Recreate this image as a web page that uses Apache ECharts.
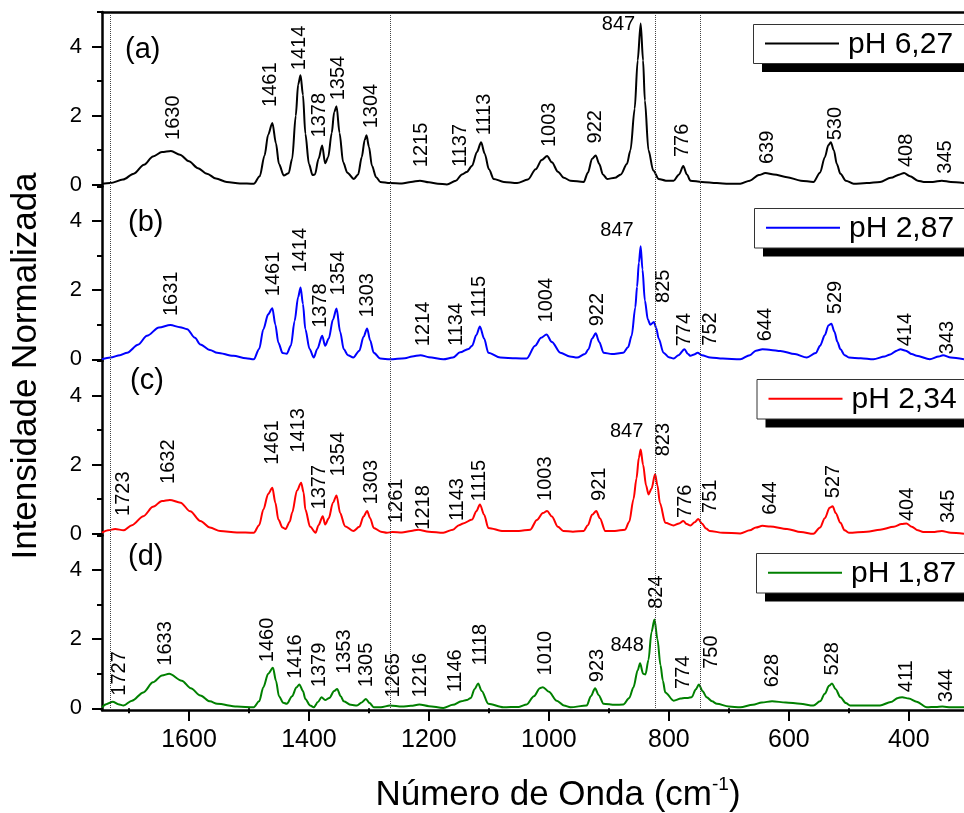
<!DOCTYPE html>
<html>
<head>
<meta charset="utf-8">
<script src="https://cdn.jsdelivr.net/npm/echarts@6/dist/echarts.min.js"></script>
<style>
  html, body { margin: 0; padding: 0; background: #fff; }
  #chart { width: 964px; height: 813px; }
</style>
</head>
<body>
<div id="chart"></div>
<script>
// ---------- data ----------
const wavenumberMin = 308;
const wavenumberMax = 1745;
const xTickMajor = [400, 600, 800, 1000, 1200, 1400, 1600];
const xTickMinor = [500, 700, 900, 1100, 1300, 1500, 1700];
const yTickMajor = [0, 2, 4];
const yTickMinor = [1, 3, 5];
const guideLines = [1731, 1265, 823, 747];
const sampleNames = ['pH 6,27', 'pH 2,87', 'pH 2,34', 'pH 1,87'];
const panelTags = ['(a)', '(b)', '(c)', '(d)'];

// Raman spectra, [wavenumber (cm-1), normalized intensity]
const spectrumA = [
  [1745, 0.03], [1731, 0.05], [1710, 0.15], [1692, 0.32], [1675, 0.58], [1660, 0.82], [1645, 0.95], [1630, 0.98],
  [1615, 0.87], [1600, 0.68], [1585, 0.48], [1570, 0.32], [1555, 0.18], [1537, 0.08], [1515, 0.04], [1492, 0.03],
  [1482, 0.25], [1474, 0.85], [1468, 1.45], [1461, 1.79], [1455, 1.2], [1450, 0.6], [1442, 0.27], [1434, 0.33],
  [1428, 0.75], [1422, 2.0], [1418, 2.9], [1414, 3.17], [1410, 2.6], [1406, 1.48], [1400, 0.6], [1394, 0.28],
  [1390, 0.3], [1384, 0.75], [1378, 1.14], [1373, 0.62], [1368, 0.8], [1362, 1.5], [1358, 2.1], [1354, 2.27],
  [1349, 1.5], [1343, 0.65], [1336, 0.35], [1325, 0.17], [1318, 0.3], [1312, 0.8], [1307, 1.3], [1304, 1.43],
  [1300, 1.1], [1295, 0.55], [1288, 0.22], [1281, 0.08], [1265, 0.05], [1245, 0.04], [1230, 0.08], [1215, 0.12],
  [1200, 0.07], [1185, 0.03], [1170, 0.01], [1155, 0.12], [1145, 0.3], [1137, 0.37], [1128, 0.55], [1120, 0.95],
  [1113, 1.23], [1107, 0.9], [1100, 0.45], [1092, 0.17], [1075, 0.08], [1053, 0.05], [1035, 0.15], [1022, 0.45],
  [1012, 0.72], [1003, 0.83], [995, 0.65], [985, 0.38], [975, 0.2], [964, 0.12], [942, 0.08], [935, 0.35],
  [928, 0.75], [922, 0.85], [916, 0.6], [910, 0.3], [903, 0.17], [890, 0.2], [880, 0.3], [870, 0.6],
  [864, 1.0], [857, 2.2], [852, 3.6], [847, 4.67], [843, 3.6], [840, 2.44], [834, 1.0], [826, 0.41],
  [817, 0.17], [805, 0.12], [792, 0.12], [783, 0.3], [776, 0.54], [770, 0.3], [764, 0.12], [745, 0.08],
  [720, 0.05], [700, 0.03], [681, 0.03], [665, 0.12], [650, 0.28], [639, 0.34], [625, 0.3], [603, 0.22],
  [580, 0.12], [559, 0.08], [548, 0.35], [540, 0.8], [534, 1.15], [530, 1.23], [525, 1.0], [520, 0.6],
  [514, 0.32], [505, 0.12], [492, 0.03], [470, 0.05], [448, 0.08], [430, 0.2], [415, 0.3], [408, 0.34],
  [398, 0.25], [385, 0.12], [375, 0.08], [360, 0.08], [345, 0.12], [330, 0.08], [308, 0.05]
];
const spectrumB = [
  [1745, 0.0], [1731, 0.05], [1715, 0.12], [1703, 0.19], [1685, 0.42], [1670, 0.68], [1650, 0.92], [1631, 0.99],
  [1615, 0.93], [1603, 0.87], [1590, 0.62], [1581, 0.43], [1565, 0.27], [1553, 0.19], [1526, 0.1], [1505, 0.03],
  [1492, 0.0], [1483, 0.3], [1476, 0.87], [1468, 1.3], [1461, 1.48], [1456, 1.0], [1451, 0.48], [1444, 0.18],
  [1437, 0.16], [1430, 0.4], [1424, 1.1], [1418, 1.8], [1414, 2.08], [1410, 1.6], [1406, 0.87], [1399, 0.3],
  [1392, 0.05], [1386, 0.3], [1378, 0.68], [1373, 0.39], [1367, 0.6], [1360, 1.15], [1354, 1.47], [1348, 0.8],
  [1342, 0.29], [1335, 0.12], [1326, 0.05], [1316, 0.25], [1309, 0.65], [1303, 0.89], [1298, 0.55], [1292, 0.19],
  [1281, 0.02], [1265, 0.0], [1240, 0.03], [1228, 0.08], [1214, 0.12], [1200, 0.06], [1176, 0.0], [1160, 0.05],
  [1148, 0.2], [1134, 0.3], [1128, 0.39], [1121, 0.7], [1115, 0.95], [1108, 0.6], [1101, 0.19], [1081, 0.05],
  [1055, 0.03], [1037, 0.02], [1023, 0.39], [1013, 0.62], [1004, 0.72], [995, 0.5], [981, 0.19], [965, 0.08],
  [953, 0.05], [940, 0.15], [934, 0.29], [928, 0.6], [922, 0.75], [916, 0.5], [909, 0.19], [895, 0.15],
  [876, 0.19], [868, 0.35], [862, 0.68], [856, 1.5], [853, 2.1], [850, 2.8], [847, 3.27], [844, 2.6],
  [840, 1.7], [835, 1.15], [831, 1.0], [825, 1.08], [821, 0.9], [817, 0.6], [809, 0.19], [800, 0.06],
  [792, 0.02], [784, 0.12], [774, 0.29], [768, 0.15], [764, 0.1], [758, 0.14], [752, 0.19], [745, 0.12],
  [731, 0.05], [710, 0.02], [681, 0.0], [665, 0.12], [655, 0.25], [644, 0.29], [630, 0.27], [614, 0.24],
  [590, 0.15], [570, 0.05], [555, 0.18], [548, 0.39], [540, 0.7], [534, 0.98], [529, 1.03], [524, 0.8],
  [519, 0.5], [514, 0.29], [507, 0.12], [500, 0.05], [480, 0.03], [459, 0.0], [440, 0.08], [431, 0.14],
  [420, 0.25], [414, 0.29], [405, 0.25], [395, 0.15], [387, 0.1], [365, 0.0], [350, 0.08], [343, 0.12],
  [330, 0.05], [308, 0.0]
];
const spectrumC = [
  [1745, 0.03], [1735, 0.1], [1723, 0.14], [1709, 0.1], [1695, 0.25], [1676, 0.51], [1660, 0.78], [1645, 0.95],
  [1632, 0.98], [1614, 0.9], [1598, 0.65], [1581, 0.37], [1565, 0.18], [1548, 0.08], [1520, 0.04], [1492, 0.03],
  [1483, 0.25], [1476, 0.7], [1468, 1.15], [1461, 1.33], [1456, 0.9], [1451, 0.41], [1444, 0.18], [1439, 0.14],
  [1432, 0.35], [1428, 0.61], [1420, 1.25], [1413, 1.48], [1409, 1.2], [1406, 0.7], [1398, 0.2], [1389, 0.03],
  [1384, 0.25], [1377, 0.51], [1373, 0.27], [1367, 0.45], [1360, 0.9], [1354, 1.11], [1348, 0.6], [1340, 0.22],
  [1326, 0.08], [1316, 0.2], [1309, 0.5], [1303, 0.66], [1298, 0.45], [1292, 0.17], [1280, 0.06], [1270, 0.03],
  [1261, 0.05], [1245, 0.04], [1230, 0.08], [1218, 0.12], [1200, 0.06], [1176, 0.03], [1160, 0.12], [1150, 0.25],
  [1143, 0.3], [1128, 0.41], [1121, 0.65], [1115, 0.85], [1108, 0.55], [1101, 0.17], [1076, 0.08], [1050, 0.08],
  [1031, 0.12], [1020, 0.4], [1010, 0.6], [1003, 0.66], [995, 0.5], [985, 0.2], [976, 0.08], [960, 0.06],
  [942, 0.08], [935, 0.25], [928, 0.55], [921, 0.66], [915, 0.45], [906, 0.08], [890, 0.08], [873, 0.12],
  [866, 0.35], [859, 1.0], [854, 1.6], [850, 2.2], [847, 2.44], [843, 2.0], [838, 1.4], [834, 1.14],
  [829, 1.3], [823, 1.72], [819, 1.4], [815, 0.9], [806, 0.32], [792, 0.24], [783, 0.3], [776, 0.37],
  [770, 0.28], [764, 0.24], [757, 0.33], [751, 0.43], [745, 0.3], [738, 0.15], [732, 0.08], [710, 0.03],
  [681, 0.01], [665, 0.1], [655, 0.18], [644, 0.23], [631, 0.21], [603, 0.14], [580, 0.05], [559, 0.0],
  [548, 0.18], [540, 0.45], [532, 0.75], [527, 0.8], [522, 0.6], [514, 0.32], [507, 0.1], [500, 0.03],
  [470, 0.06], [448, 0.12], [425, 0.2], [412, 0.28], [404, 0.3], [395, 0.2], [385, 0.1], [376, 0.05],
  [360, 0.05], [345, 0.08], [330, 0.03], [308, 0.0]
];
const spectrumD = [
  [1745, 0.03], [1738, 0.12], [1727, 0.19], [1718, 0.12], [1709, 0.08], [1695, 0.22], [1676, 0.46], [1660, 0.75],
  [1645, 0.95], [1633, 1.0], [1612, 0.8], [1597, 0.58], [1581, 0.37], [1565, 0.2], [1553, 0.13], [1520, 0.05],
  [1492, 0.03], [1483, 0.2], [1476, 0.61], [1468, 1.0], [1460, 1.17], [1455, 0.8], [1450, 0.35], [1443, 0.16],
  [1437, 0.13], [1428, 0.35], [1421, 0.6], [1416, 0.69], [1410, 0.5], [1406, 0.27], [1398, 0.08], [1392, 0.03],
  [1385, 0.18], [1379, 0.32], [1373, 0.24], [1366, 0.3], [1358, 0.5], [1353, 0.56], [1347, 0.35], [1342, 0.2],
  [1330, 0.1], [1320, 0.08], [1312, 0.17], [1305, 0.27], [1299, 0.15], [1292, 0.03], [1280, 0.03], [1265, 0.08],
  [1245, 0.05], [1230, 0.07], [1216, 0.11], [1200, 0.06], [1176, 0.01], [1160, 0.1], [1146, 0.2], [1137, 0.24],
  [1130, 0.3], [1124, 0.55], [1118, 0.72], [1112, 0.5], [1101, 0.13], [1076, 0.03], [1050, 0.04], [1037, 0.11],
  [1025, 0.35], [1015, 0.58], [1010, 0.61], [1000, 0.48], [987, 0.22], [975, 0.08], [964, 0.03], [937, 0.08],
  [930, 0.35], [923, 0.58], [917, 0.38], [909, 0.13], [890, 0.1], [876, 0.11], [866, 0.3], [859, 0.61],
  [852, 1.1], [848, 1.3], [843, 1.0], [839, 0.98], [834, 1.4], [829, 2.2], [824, 2.57], [819, 2.0],
  [814, 1.25], [810, 0.8], [806, 0.46], [792, 0.22], [780, 0.28], [774, 0.3], [768, 0.3], [762, 0.32],
  [755, 0.55], [750, 0.69], [744, 0.5], [737, 0.32], [728, 0.2], [720, 0.13], [700, 0.05], [681, 0.03],
  [660, 0.1], [645, 0.17], [628, 0.2], [605, 0.17], [581, 0.13], [559, 0.08], [548, 0.2], [540, 0.42],
  [533, 0.65], [528, 0.72], [522, 0.55], [514, 0.32], [505, 0.15], [498, 0.08], [470, 0.08], [448, 0.08],
  [430, 0.18], [418, 0.3], [411, 0.32], [400, 0.28], [387, 0.19], [370, 0.03], [355, 0.04], [344, 0.05],
  [330, 0.03], [308, 0.03]
];

// Band positions annotated on each spectrum (cm-1)
const peaksA = [1630, 1461, 1414, 1378, 1354, 1304, 1215, 1137, 1113, 1003, 922, 847, 776, 639, 530, 408, 345];
const peaksB = [1631, 1461, 1414, 1378, 1354, 1303, 1214, 1134, 1115, 1004, 922, 847, 825, 774, 752, 644, 529, 414, 343];
const peaksC = [1723, 1632, 1461, 1413, 1377, 1354, 1303, 1261, 1218, 1143, 1115, 1003, 921, 847, 823, 776, 751, 644, 527, 404, 345];
const peaksD = [1727, 1633, 1460, 1416, 1379, 1353, 1305, 1265, 1216, 1146, 1118, 1010, 923, 848, 824, 774, 750, 628, 528, 411, 344];

// ---------- layout & style ----------
const FONT = '"Liberation Sans", Arial, sans-serif';
const lineColors = ['#000000', '#0000ff', '#ff0000', '#008000'];
const plotLeft = 102;
const plotWidth = 862;
const panelTops = [12, 186.5, 361, 535.5];
const panelHeight = 174.5;
const yRange = [-0.05, 5];
// legend frames: [left, top, height]
const legendBox = [[753, 24, 39], [754, 208, 39.5], [756.5, 379, 39.5], [756, 553, 39.5]];
const legendBoxWidth = 260;
const legendShadow = 9;
const tagPos = [[125, 50], [128, 223], [130, 381], [128, 557]];

// Label placement relative to its band maximum, in pixels:
// [dx, gap above] for upright labels, [dx, dy, align] for horizontal ones.
const labelNudgeA = {
  1630: [2.6, 11], 1461: [-1.4, 16], 1414: [-1.3, 5], 1378: [-3, 8], 1354: [2, 6], 1304: [5, 7],
  1215: [2, 13.5], 1137: [-6.5, 5], 1113: [3, 7], 1003: [2, 9], 922: [0, 12], 847: [-5.5, 1, 'right'],
  776: [-1, 9], 639: [2, 9], 530: [5, 2], 408: [2, 6], 345: [4, 7]
};
const labelNudgeB = {
  1631: [1.6, 9], 1461: [1, 12], 1414: [0, 15], 1378: [-2, 8], 1354: [2, 13], 1303: [0, 11],
  1214: [3, 9], 1134: [-11.6, 3], 1115: [0, 9], 1004: [0, 12], 922: [2, 7], 847: [-7, -15.5, 'right'],
  825: [10, 19], 774: [0, 3], 752: [13, 7], 644: [3, 8], 529: [4, 9.5], 414: [5, 3], 343: [4, 1]
};
const labelNudgeC = {
  1723: [8.4, 13], 1632: [-1, 16], 1461: [0, 23], 1413: [-2.6, 30], 1377: [-3.5, 6.7], 1354: [2, 19],
  1303: [4, 6.5], 1261: [4.6, 9], 1218: [5.4, 0], 1143: [-5.6, 2.3], 1115: [0, 3], 1003: [-2, 10],
  921: [3, 10], 847: [-14, -18.4, 'center'], 823: [8, 18], 776: [2, 3], 751: [12.6, 6], 644: [8, 11],
  527: [1, 8], 404: [1, 2.3], 345: [6.6, 8]
};
const labelNudgeD = {
  1727: [6.5, 6], 1633: [-4, 8], 1460: [-5.4, 5.6], 1416: [-3.4, 5.6], 1379: [-2.3, 10], 1353: [7, 15],
  1305: [1, 11.7], 1265: [4, 8], 1216: [1.5, 7], 1146: [-5.4, 9], 1118: [2, 18], 1010: [2.3, 11.7],
  923: [2.4, 6], 848: [-13, -18, 'center'], 824: [2.4, 10.7], 774: [-1, 9], 750: [13, 15.6], 628: [0, 14],
  528: [0, 8], 411: [4.6, 5], 344: [4.4, 4.3]
};

const spectra = [spectrumA, spectrumB, spectrumC, spectrumD];
const peakLists = [peaksA, peaksB, peaksC, peaksD];
const labelNudges = [labelNudgeA, labelNudgeB, labelNudgeC, labelNudgeD];

// intensity of a spectrum at a given band position (used to anchor its label)
function intensityAt(spec, w) {
  for (let i = 0; i < spec.length; i++) {
    if (spec[i][0] === w) return spec[i][1];
    if (i > 0 && spec[i - 1][0] > w && spec[i][0] < w) {
      const [x0, y0] = spec[i - 1], [x1, y1] = spec[i];
      return y0 + (y1 - y0) * (w - x0) / (x1 - x0);
    }
  }
  return 0;
}

const grids = panelTops.map(top => ({ left: plotLeft, width: plotWidth, top: top, height: panelHeight }));
// full-height overlay grid that carries the vertical guide lines
grids.push({ left: plotLeft, width: plotWidth, top: panelTops[0], height: panelHeight * 4 });

const baseX = {
  type: 'value', min: wavenumberMin, max: wavenumberMax, inverse: true,
  splitLine: { show: false }
};
const xAxes = [];
for (let i = 0; i < 4; i++) {
  const bottom = i === 3;
  xAxes.push(Object.assign({}, baseX, {
    gridIndex: i, position: 'bottom',
    axisLine: { show: bottom, onZero: false, lineStyle: { color: '#000', width: 2.5 } },
    axisTick: { show: bottom, customValues: xTickMajor, length: 11, lineStyle: { color: '#000', width: 2 } },
    axisLabel: {
      show: bottom, customValues: xTickMajor, margin: 18, formatter: v => String(v),
      fontFamily: FONT, fontSize: 25, color: '#000'
    }
  }));
}
// minor ticks on the bottom axis
xAxes.push(Object.assign({}, baseX, {
  gridIndex: 3, position: 'bottom',
  axisLine: { show: false },
  axisTick: { show: true, customValues: xTickMinor, length: 5, lineStyle: { color: '#000', width: 2 } },
  axisLabel: { show: false }
}));
// top frame line of the first panel
xAxes.push(Object.assign({}, baseX, {
  gridIndex: 0, position: 'top',
  axisLine: { show: true, onZero: false, lineStyle: { color: '#000', width: 2.5 } },
  axisTick: { show: false }, axisLabel: { show: false }
}));
// guide-line overlay
xAxes.push(Object.assign({}, baseX, { gridIndex: 4, show: false }));
const guideXAxis = xAxes.length - 1;

const yAxes = [];
for (let i = 0; i < 4; i++) {
  yAxes.push({
    type: 'value', gridIndex: i, min: yRange[0], max: yRange[1], position: 'left',
    splitLine: { show: false },
    axisLine: { show: true, onZero: false, lineStyle: { color: '#000', width: 2.5 } },
    axisTick: { show: true, customValues: yTickMajor, length: 10, lineStyle: { color: '#000', width: 2 } },
    axisLabel: { show: true, customValues: yTickMajor, margin: 20, fontFamily: FONT, fontSize: 22, color: '#000' }
  });
}
for (let i = 0; i < 4; i++) {
  yAxes.push({
    type: 'value', gridIndex: i, min: yRange[0], max: yRange[1], position: 'left',
    splitLine: { show: false },
    axisLine: { show: false },
    axisTick: { show: true, customValues: yTickMinor, length: 5, lineStyle: { color: '#000', width: 2 } },
    axisLabel: { show: false }
  });
}
yAxes.push({ type: 'value', gridIndex: 4, min: 0, max: 1, show: false });
const guideYAxis = yAxes.length - 1;

const series = [];
spectra.forEach((spec, i) => {
  series.push({
    name: sampleNames[i], type: 'line', xAxisIndex: i, yAxisIndex: i,
    data: spec, symbol: 'none', showSymbol: false, smooth: 0.3, smoothMonotone: 'x',
    lineStyle: { color: lineColors[i], width: 2 }, itemStyle: { color: lineColors[i] },
    z: 3, silent: true
  });
  const nudge = labelNudges[i];
  series.push({
    type: 'scatter', xAxisIndex: i, yAxisIndex: i, symbol: 'circle', symbolSize: 0,
    silent: true, z: 4, itemStyle: { opacity: 1 },
    label: {
      show: true, fontFamily: FONT, fontSize: 20, color: '#000',
      formatter: p => String(p.value[0])
    },
    data: peakLists[i].map(w => {
      const n = nudge[w];
      const label = n.length > 2
        ? { position: [n[0], n[1]], rotate: 0, align: n[2], verticalAlign: 'middle' }
        : { position: [n[0], -n[1]], rotate: 90, align: 'left', verticalAlign: 'middle' };
      return { value: [w, intensityAt(spec, w)], label: label };
    })
  });
});
// dotted guide lines across all panels
series.push({
  type: 'line', xAxisIndex: guideXAxis, yAxisIndex: guideYAxis, data: [], silent: true, z: 1,
  markLine: {
    silent: true, symbol: ['none', 'none'], label: { show: false },
    lineStyle: { type: 'dotted', color: '#444', width: 1 },
    data: guideLines.map(v => ({ xAxis: v }))
  }
});

const graphics = [];
// legend frames with a drop shadow, one per panel
sampleNames.forEach((name, i) => {
  const [bx, by, bh] = legendBox[i];
  graphics.push({
    type: 'rect', z: 10, silent: true,
    shape: { x: bx + legendShadow, y: by + legendShadow, width: legendBoxWidth, height: bh },
    style: { fill: '#000' }
  });
  graphics.push({
    type: 'rect', z: 11, silent: true,
    shape: { x: bx + 0.5, y: by + 0.5, width: legendBoxWidth, height: bh },
    style: { fill: '#fff', stroke: '#333', lineWidth: 1 }
  });
  graphics.push({
    type: 'line', z: 12, silent: true,
    shape: { x1: bx + 12, y1: by + bh / 2, x2: bx + 86, y2: by + bh / 2 },
    style: { stroke: lineColors[i], lineWidth: 2 }
  });
  graphics.push({
    type: 'text', z: 12, silent: true, x: bx + 95, y: by + bh / 2 + 1,
    style: { text: name, fontFamily: FONT, fontSize: 30, fill: '#000', align: 'left', verticalAlign: 'middle' }
  });
});
panelTags.forEach((t, i) => graphics.push({
  type: 'text', x: tagPos[i][0], y: tagPos[i][1],
  style: { text: t, fontFamily: FONT, fontSize: 29, fill: '#000', align: 'left', verticalAlign: 'middle' }
}));
graphics.push({
  type: 'text', x: 26, y: 366, rotation: Math.PI / 2,
  style: { text: 'Intensidade Normalizada', fontFamily: FONT, fontSize: 35, fill: '#000', align: 'center', verticalAlign: 'middle' }
});
graphics.push({
  type: 'text', x: 558, y: 793,
  style: {
    text: '{t|Número de Onda (cm}{s|-1}{t|)}', align: 'center', verticalAlign: 'middle',
    rich: {
      t: { fontFamily: FONT, fontSize: 35, fill: '#000', lineHeight: 40, verticalAlign: 'bottom' },
      s: { fontFamily: FONT, fontSize: 19, fill: '#000', lineHeight: 40, verticalAlign: 'top', padding: [2, 0, 0, 0] }
    }
  }
});

const chart = echarts.init(document.getElementById('chart'), null, { renderer: 'canvas' });
chart.setOption({
  animation: false,
  backgroundColor: '#fff',
  grid: grids,
  xAxis: xAxes,
  yAxis: yAxes,
  series: series,
  graphic: graphics
});
</script>
</body>
</html>
